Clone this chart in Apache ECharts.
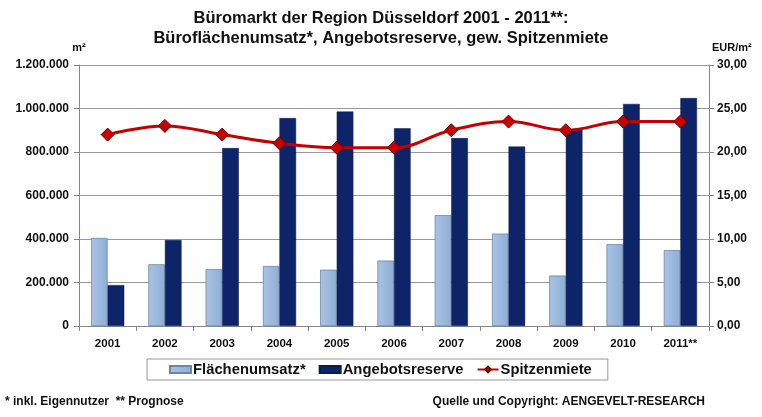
<!DOCTYPE html>
<html>
<head>
<meta charset="utf-8">
<script src="https://cdn.jsdelivr.net/npm/echarts@6/dist/echarts.min.js"></script>
<style>html,body{margin:0;padding:0;background:#fff}#c{width:762px;height:417px}</style>
</head>
<body>
<div id="c"></div>
<script>
const categories = ['2001','2002','2003','2004','2005','2006','2007','2008','2009','2010','2011**'];
const flaechenumsatz = [405000, 284000, 262000, 276000, 259000, 301000, 510000, 425000, 232000, 376000, 349000];
const angebotsreserve = [188000, 395000, 818000, 956000, 986000, 909000, 864000, 825000, 903000, 1021000, 1048000];
const spitzenmiete = [22.0, 23.0, 22.0, 21.0, 20.5, 20.5, 22.5, 23.5, 22.5, 23.5, 23.5];
const leftTicks = {min: 0, max: 1200000, interval: 200000};
const rightTicks = {min: 0, max: 30, interval: 5};

const font = 'Liberation Sans, Arial, sans-serif';
const chart = echarts.init(document.getElementById('c'), null, {renderer: 'canvas'});
const fmtThousands = v => String(Math.round(v)).replace(/\B(?=(\d{3})+(?!\d))/g, '.');
const fmtEur = v => v.toFixed(2).replace('.', ',');

chart.setOption({
  backgroundColor: '#fff',
  animation: false,
  textStyle: {fontFamily: font},
  title: {
    text: 'Büromarkt der Region Düsseldorf 2001 - 2011**:\nBüroflächenumsatz*, Angebotsreserve, gew. Spitzenmiete',
    left: 'center', top: 3,
    textStyle: {fontFamily: font, fontSize: 16.5, fontWeight: 'bold', color: '#111', lineHeight: 20}
  },
  grid: {left: 79, right: 53, top: 65, bottom: 91},
  legend: {
    data: [
      {name: 'Flächenumsatz*', icon: 'rect'},
      {name: 'Angebotsreserve', icon: 'rect'},
      {name: 'Spitzenmiete'}
    ],
    left: 147, top: 359,
    padding: [3, 16, 3, 22],
    borderColor: '#999', borderWidth: 1,
    itemGap: 13, itemWidth: 21, itemHeight: 7,
    textStyle: {fontFamily: font, fontSize: 14.8, fontWeight: 'bold', color: '#111', padding: [0, 0, 0, -3]}
  },
  xAxis: {
    type: 'category', data: categories,
    axisLine: {lineStyle: {color: '#888'}},
    axisTick: {show: true, inside: false, length: 5, alignWithLabel: false, lineStyle: {color: '#888'}},
    axisLabel: {fontFamily: font, fontSize: 11.5, fontWeight: 'bold', color: '#111', margin: 12}
  },
  yAxis: [
    {
      type: 'value', min: leftTicks.min, max: leftTicks.max, interval: leftTicks.interval,
      name: 'm²', nameLocation: 'end', nameGap: 12,
      nameTextStyle: {fontFamily: font, fontSize: 11, fontWeight: 'bold', color: '#111', align: 'center'},
      axisLine: {show: true, lineStyle: {color: '#888'}},
      axisTick: {show: true, length: 5, lineStyle: {color: '#888'}},
      splitLine: {lineStyle: {color: '#999'}},
      axisLabel: {fontFamily: font, fontSize: 12, fontWeight: 'bold', color: '#111', margin: 10, formatter: fmtThousands}
    },
    {
      type: 'value', min: rightTicks.min, max: rightTicks.max, interval: rightTicks.interval,
      name: 'EUR/m²', nameLocation: 'end', nameGap: 12,
      nameTextStyle: {fontFamily: font, fontSize: 11, fontWeight: 'bold', color: '#111', align: 'left', padding: [0, 0, 0, 3]},
      position: 'right',
      axisLine: {show: true, lineStyle: {color: '#888'}},
      axisTick: {show: true, length: 5, lineStyle: {color: '#888'}},
      splitLine: {show: false},
      axisLabel: {fontFamily: font, fontSize: 12, fontWeight: 'bold', color: '#111', margin: 8, formatter: fmtEur}
    }
  ],
  series: [
    {
      name: 'Flächenumsatz*', type: 'bar', data: flaechenumsatz,
      barGap: '0%', barCategoryGap: '42%',
      itemStyle: {
        color: new echarts.graphic.LinearGradient(0, 0, 1, 0, [
          {offset: 0, color: '#a9c3e3'}, {offset: 1, color: '#8eaed7'}
        ]),
        borderColor: '#6c85a8', borderWidth: 0.8
      }
    },
    {
      name: 'Angebotsreserve', type: 'bar', data: angebotsreserve,
      itemStyle: {color: '#0e2468', borderColor: '#0a1b52', borderWidth: 0.5}
    },
    {
      name: 'Spitzenmiete', type: 'line', yAxisIndex: 1, data: spitzenmiete,
      smooth: 0.4, symbol: 'diamond', symbolSize: 13,
      lineStyle: {color: '#c40000', width: 3},
      itemStyle: {color: '#c80000', borderColor: '#6a0000', borderWidth: 1}
    }
  ],
  graphic: [
    {type: 'text', left: 5, top: 396, style: {text: '* inkl. Eigennutzer  ** Prognose', font: 'bold 12px Liberation Sans, Arial, sans-serif', fill: '#111'}},
    {type: 'text', right: 57, top: 396, style: {text: 'Quelle und Copyright: AENGEVELT-RESEARCH', font: 'bold 12px Liberation Sans, Arial, sans-serif', fill: '#111'}}
  ]
});
</script>
</body>
</html>
